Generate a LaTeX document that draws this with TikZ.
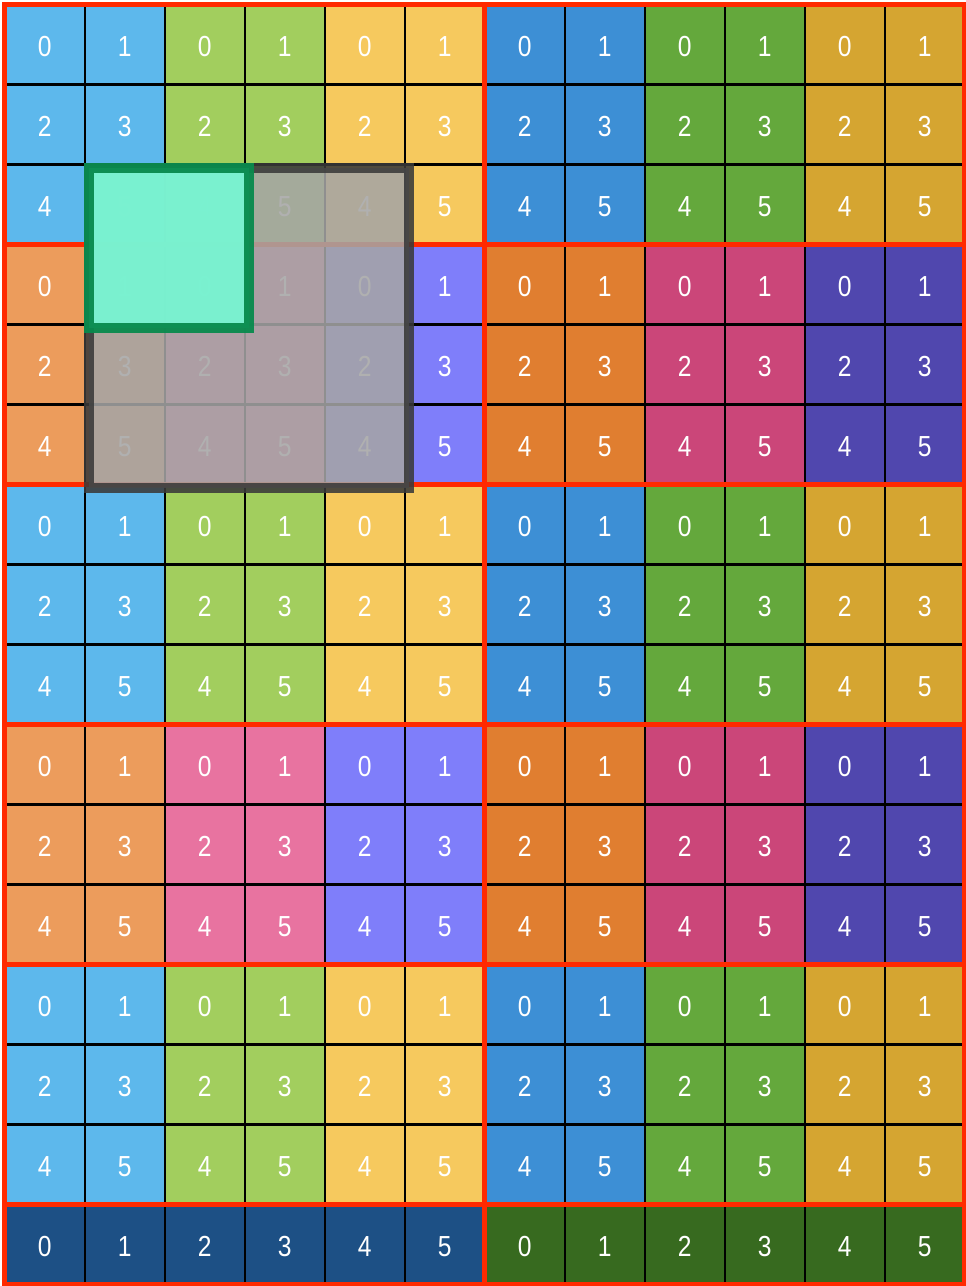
\documentclass[tikz,border=0pt]{standalone}
\usepackage{fontspec}
\setmainfont[FakeStretch=0.85]{Liberation Sans}
\definecolor{colA0}{HTML}{5DB8EC}
\definecolor{colA1}{HTML}{A2CE5E}
\definecolor{colA2}{HTML}{F6C95E}
\definecolor{colA3}{HTML}{3D8FD5}
\definecolor{colA4}{HTML}{64A83C}
\definecolor{colA5}{HTML}{D5A531}
\definecolor{colB0}{HTML}{EC9C5C}
\definecolor{colB1}{HTML}{E873A0}
\definecolor{colB2}{HTML}{7F7EFA}
\definecolor{colB3}{HTML}{E07E30}
\definecolor{colB4}{HTML}{CB4679}
\definecolor{colB5}{HTML}{5047AE}
\definecolor{colC0}{HTML}{1D5085}
\definecolor{colC1}{HTML}{1D5085}
\definecolor{colC2}{HTML}{1D5085}
\definecolor{colC3}{HTML}{376A1F}
\definecolor{colC4}{HTML}{376A1F}
\definecolor{colC5}{HTML}{376A1F}
\definecolor{redc}{HTML}{FF2A00}
\definecolor{winfill}{HTML}{A5A5A5}
\definecolor{winborder}{HTML}{3A3A3A}
\definecolor{curfill}{HTML}{78F5D2}
\definecolor{curborder}{HTML}{088A4D}
\begin{document}
\begin{tikzpicture}[x=1pt,y=-1pt,
  cell/.style={minimum size=80pt, inner sep=0pt, outer sep=0pt, text=white,
    text height=24pt, text depth=0pt, font=\fontsize{29}{31}\selectfont},
  gridline/.style={draw=black, line width=2.4pt},
  redline/.style={draw=redc, line width=5pt},
  graywin/.style={rectangle, minimum size=320pt, inner sep=0pt, outer sep=0pt,
    fill=winfill, fill opacity=0.87, draw=winborder, draw opacity=0.88, line width=10pt},
  curwin/.style={rectangle, minimum size=160pt, inner sep=0pt, outer sep=0pt,
    fill=curfill, fill opacity=0.95, draw=curborder, draw opacity=0.95, line width=10pt}]
\useasboundingbox (0,0) rectangle (966,1286);
\fill[white] (0,0) rectangle (966,1286);
\foreach \r in {0,...,15}{
  \foreach \c in {0,...,11}{
    \pgfmathtruncatemacro{\g}{int(\c/2)}
    \ifnum\r=15
      \pgfmathtruncatemacro{\n}{mod(\c,6)}
      \def\L{C}
    \else
      \pgfmathtruncatemacro{\b}{mod(int(\r/3),2)}
      \pgfmathtruncatemacro{\n}{2*mod(\r,3)+mod(\c,2)}
      \ifnum\b=0 \def\L{A}\else\def\L{B}\fi
    \fi
    \node[cell, fill=col\L\g] (c-\r-\c) at (44.7+80*\c, 44.5+80*\r) {\n};
  }
}
% black grid lines
\foreach \c in {0,...,10}{
  \draw[gridline] (c-0-\c.north east) -- (c-15-\c.south east);
}
\foreach \r in {0,...,14}{
  \draw[gridline] (c-\r-0.south west) -- (c-\r-11.south east);
}
% red block lines
\draw[redline] (c-0-5.north east) -- (c-15-5.south east);
\foreach \r in {2,5,8,11,14}{
  \draw[redline] (c-\r-0.south west) -- (c-\r-11.south east);
}
\draw[redline] (c-0-0.north west) rectangle (c-15-11.south east);
% windows
\node[graywin] (win) at (249,328) {};
\node[curwin] (cur) at (168.5,248) {};
\end{tikzpicture}
\end{document}
